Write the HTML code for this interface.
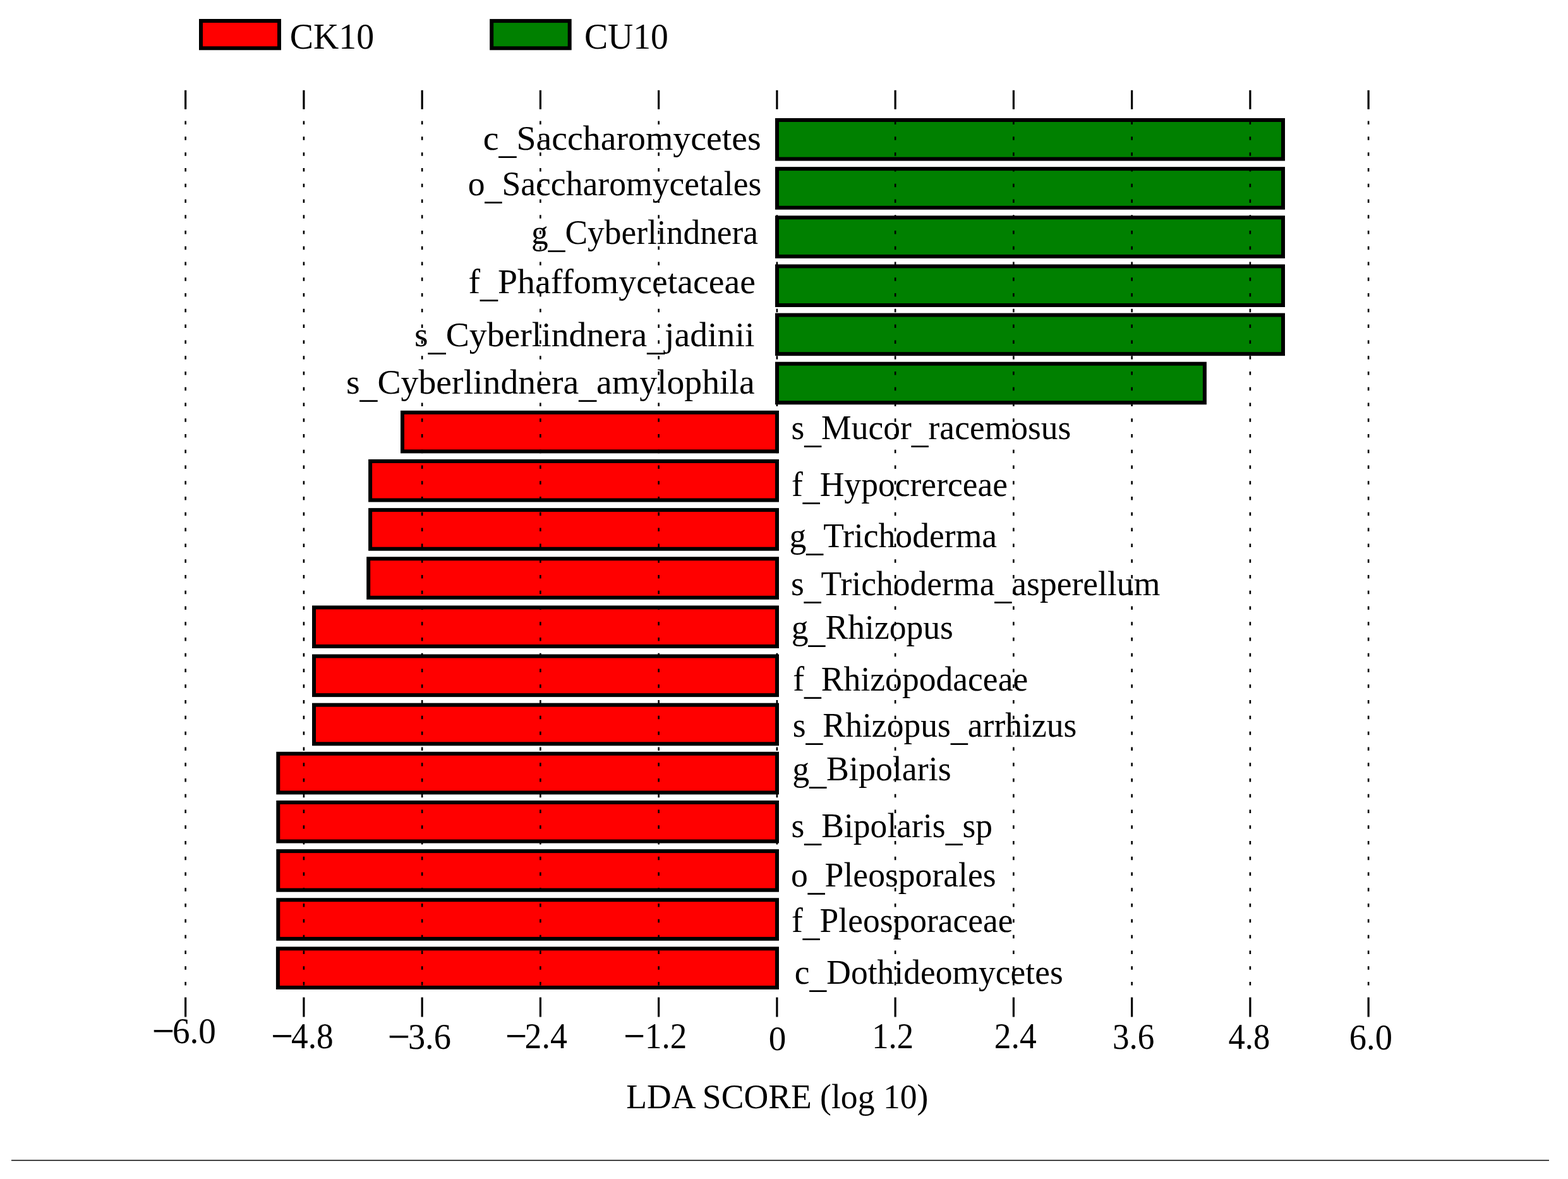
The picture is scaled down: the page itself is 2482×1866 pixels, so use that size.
<!DOCTYPE html>
<html><head><meta charset="utf-8"><title>LDA score plot</title><style>html,body{margin:0;padding:0;background:#fff;overflow:hidden}svg{display:block}text{font-family:"Liberation Serif","Times New Roman",serif;fill:#000}</style></head><body>
<svg width="2482" height="1866" viewBox="0 0 2482 1866">
<rect width="2482" height="1866" fill="#fff"/>
<rect x="318" y="33" width="124" height="43.3" fill="#ff0000" stroke="#000" stroke-width="6"/>
<rect x="778.2" y="33.1" width="123.5" height="43.2" fill="#008000" stroke="#000" stroke-width="6"/>
<text transform="translate(458.8 76.6) scale(0.9972 1)" font-size="56">CK10</text>
<text transform="translate(924.9 76.6) scale(0.9774 1)" font-size="57">CU10</text>
<rect x="1230" y="190.00" width="801.0" height="61.6" fill="#008000" stroke="#000" stroke-width="6"/>
<rect x="1230" y="267.14" width="801.0" height="61.6" fill="#008000" stroke="#000" stroke-width="6"/>
<rect x="1230" y="344.28" width="801.0" height="61.6" fill="#008000" stroke="#000" stroke-width="6"/>
<rect x="1230" y="421.42" width="801.0" height="61.6" fill="#008000" stroke="#000" stroke-width="6"/>
<rect x="1230" y="498.56" width="801.0" height="61.6" fill="#008000" stroke="#000" stroke-width="6"/>
<rect x="1230" y="575.70" width="676.9" height="61.6" fill="#008000" stroke="#000" stroke-width="6"/>
<rect x="637" y="652.84" width="593.0" height="61.6" fill="#ff0000" stroke="#000" stroke-width="6"/>
<rect x="586.1" y="729.98" width="643.9" height="61.6" fill="#ff0000" stroke="#000" stroke-width="6"/>
<rect x="586.1" y="807.12" width="643.9" height="61.6" fill="#ff0000" stroke="#000" stroke-width="6"/>
<rect x="583.2" y="884.26" width="646.8" height="61.6" fill="#ff0000" stroke="#000" stroke-width="6"/>
<rect x="497" y="961.40" width="733.0" height="61.6" fill="#ff0000" stroke="#000" stroke-width="6"/>
<rect x="497" y="1038.54" width="733.0" height="61.6" fill="#ff0000" stroke="#000" stroke-width="6"/>
<rect x="497" y="1115.68" width="733.0" height="61.6" fill="#ff0000" stroke="#000" stroke-width="6"/>
<rect x="440.3" y="1192.82" width="789.7" height="61.6" fill="#ff0000" stroke="#000" stroke-width="6"/>
<rect x="440.3" y="1269.96" width="789.7" height="61.6" fill="#ff0000" stroke="#000" stroke-width="6"/>
<rect x="440.3" y="1347.10" width="789.7" height="61.6" fill="#ff0000" stroke="#000" stroke-width="6"/>
<rect x="440.3" y="1424.24" width="789.7" height="61.6" fill="#ff0000" stroke="#000" stroke-width="6"/>
<rect x="439.9" y="1501.38" width="790.1" height="61.6" fill="#ff0000" stroke="#000" stroke-width="6"/>
<line x1="293.65" y1="142.8" x2="293.65" y2="172.9" stroke="#000" stroke-width="3.2"/>
<line x1="293.65" y1="1578.5" x2="293.65" y2="1609.5" stroke="#000" stroke-width="3.2"/>
<line x1="293.65" y1="191.6" x2="293.65" y2="1562" stroke="#000" stroke-width="2.6" stroke-dasharray="5.5 19.27"/>
<line x1="480.90" y1="142.8" x2="480.90" y2="172.9" stroke="#000" stroke-width="3.2"/>
<line x1="480.90" y1="1578.5" x2="480.90" y2="1609.5" stroke="#000" stroke-width="3.2"/>
<line x1="480.90" y1="191.6" x2="480.90" y2="1562" stroke="#000" stroke-width="2.6" stroke-dasharray="5.5 19.27"/>
<line x1="668.15" y1="142.8" x2="668.15" y2="172.9" stroke="#000" stroke-width="3.2"/>
<line x1="668.15" y1="1578.5" x2="668.15" y2="1609.5" stroke="#000" stroke-width="3.2"/>
<line x1="668.15" y1="191.6" x2="668.15" y2="1562" stroke="#000" stroke-width="2.6" stroke-dasharray="5.5 19.27"/>
<line x1="855.40" y1="142.8" x2="855.40" y2="172.9" stroke="#000" stroke-width="3.2"/>
<line x1="855.40" y1="1578.5" x2="855.40" y2="1609.5" stroke="#000" stroke-width="3.2"/>
<line x1="855.40" y1="191.6" x2="855.40" y2="1562" stroke="#000" stroke-width="2.6" stroke-dasharray="5.5 19.27"/>
<line x1="1042.65" y1="142.8" x2="1042.65" y2="172.9" stroke="#000" stroke-width="3.2"/>
<line x1="1042.65" y1="1578.5" x2="1042.65" y2="1609.5" stroke="#000" stroke-width="3.2"/>
<line x1="1042.65" y1="191.6" x2="1042.65" y2="1562" stroke="#000" stroke-width="2.6" stroke-dasharray="5.5 19.27"/>
<line x1="1229.90" y1="142.8" x2="1229.90" y2="172.9" stroke="#000" stroke-width="3.2"/>
<line x1="1229.90" y1="1578.5" x2="1229.90" y2="1609.5" stroke="#000" stroke-width="3.2"/>
<line x1="1229.90" y1="191.6" x2="1229.90" y2="1562" stroke="#000" stroke-width="2.6" stroke-dasharray="5.5 19.27"/>
<line x1="1417.15" y1="142.8" x2="1417.15" y2="172.9" stroke="#000" stroke-width="3.2"/>
<line x1="1417.15" y1="1578.5" x2="1417.15" y2="1609.5" stroke="#000" stroke-width="3.2"/>
<line x1="1417.15" y1="191.6" x2="1417.15" y2="1562" stroke="#000" stroke-width="2.6" stroke-dasharray="5.5 19.27"/>
<line x1="1604.40" y1="142.8" x2="1604.40" y2="172.9" stroke="#000" stroke-width="3.2"/>
<line x1="1604.40" y1="1578.5" x2="1604.40" y2="1609.5" stroke="#000" stroke-width="3.2"/>
<line x1="1604.40" y1="191.6" x2="1604.40" y2="1562" stroke="#000" stroke-width="2.6" stroke-dasharray="5.5 19.27"/>
<line x1="1791.65" y1="142.8" x2="1791.65" y2="172.9" stroke="#000" stroke-width="3.2"/>
<line x1="1791.65" y1="1578.5" x2="1791.65" y2="1609.5" stroke="#000" stroke-width="3.2"/>
<line x1="1791.65" y1="191.6" x2="1791.65" y2="1562" stroke="#000" stroke-width="2.6" stroke-dasharray="5.5 19.27"/>
<line x1="1978.90" y1="142.8" x2="1978.90" y2="172.9" stroke="#000" stroke-width="3.2"/>
<line x1="1978.90" y1="1578.5" x2="1978.90" y2="1609.5" stroke="#000" stroke-width="3.2"/>
<line x1="1978.90" y1="191.6" x2="1978.90" y2="1562" stroke="#000" stroke-width="2.6" stroke-dasharray="5.5 19.27"/>
<line x1="2166.15" y1="142.8" x2="2166.15" y2="172.9" stroke="#000" stroke-width="3.2"/>
<line x1="2166.15" y1="1578.5" x2="2166.15" y2="1609.5" stroke="#000" stroke-width="3.2"/>
<line x1="2166.15" y1="191.6" x2="2166.15" y2="1562" stroke="#000" stroke-width="2.6" stroke-dasharray="5.5 19.27"/>
<text x="764.8" y="237.1" font-size="55.8">c<tspan dy="6.0">_</tspan><tspan dy="-6.0">Saccharomycetes</tspan></text>
<text transform="translate(740.8 308.8) scale(0.9615 1)" font-size="55.8">o<tspan dy="6.0">_</tspan><tspan dy="-6.0">Saccharomycetales</tspan></text>
<text transform="translate(841.0 385.8) scale(0.9560 1)" font-size="55.9">g<tspan dy="6.0">_</tspan><tspan dy="-6.0">Cyberlindnera</tspan></text>
<text transform="translate(741.5 463.7) scale(1.0041 1)" font-size="55.6">f<tspan dy="6.0">_</tspan><tspan dy="-6.0">Phaffomycetaceae</tspan></text>
<text transform="translate(656.1 547.7) scale(1.0222 1)" font-size="54.5">s<tspan dy="6.0">_</tspan><tspan dy="-6.0">Cyberlindnera</tspan><tspan dy="6.0">_</tspan><tspan dy="-6.0">jadinii</tspan></text>
<text transform="translate(547.9 623.4) scale(1.0225 1)" font-size="54.5">s<tspan dy="6.0">_</tspan><tspan dy="-6.0">Cyberlindnera</tspan><tspan dy="6.0">_</tspan><tspan dy="-6.0">amylophila</tspan></text>
<text transform="translate(1252.5 695.1) scale(0.9644 1)" font-size="55.5">s<tspan dy="6.0">_</tspan><tspan dy="-6.0">Mucor</tspan><tspan dy="6.0">_</tspan><tspan dy="-6.0">racemosus</tspan></text>
<text transform="translate(1253.0 784.6) scale(0.9656 1)" font-size="55.5">f<tspan dy="6.0">_</tspan><tspan dy="-6.0">Hypocrerceae</tspan></text>
<text transform="translate(1249.5 865.7) scale(0.9665 1)" font-size="55.5">g<tspan dy="6.0">_</tspan><tspan dy="-6.0">Trichoderma</tspan></text>
<text transform="translate(1251.9 942.2) scale(0.9658 1)" font-size="55.5">s<tspan dy="6.0">_</tspan><tspan dy="-6.0">Trichoderma</tspan><tspan dy="6.0">_</tspan><tspan dy="-6.0">asperellum</tspan></text>
<text transform="translate(1252.8 1010.8) scale(0.9663 1)" font-size="55.5">g<tspan dy="6.0">_</tspan><tspan dy="-6.0">Rhizopus</tspan></text>
<text transform="translate(1255.2 1093) scale(0.9660 1)" font-size="55.5">f<tspan dy="6.0">_</tspan><tspan dy="-6.0">Rhizopodaceae</tspan></text>
<text transform="translate(1254.7 1165.9) scale(0.9662 1)" font-size="55.5">s<tspan dy="6.0">_</tspan><tspan dy="-6.0">Rhizopus</tspan><tspan dy="6.0">_</tspan><tspan dy="-6.0">arrhizus</tspan></text>
<text transform="translate(1254.2 1234.5) scale(0.9710 1)" font-size="55.5">g<tspan dy="6.0">_</tspan><tspan dy="-6.0">Bipolaris</tspan></text>
<text transform="translate(1252.5 1325.1) scale(0.9659 1)" font-size="55.5">s<tspan dy="6.0">_</tspan><tspan dy="-6.0">Bipolaris</tspan><tspan dy="6.0">_</tspan><tspan dy="-6.0">sp</tspan></text>
<text transform="translate(1252.0 1402.8) scale(0.9663 1)" font-size="55.5">o<tspan dy="6.0">_</tspan><tspan dy="-6.0">Pleosporales</tspan></text>
<text transform="translate(1253.0 1475.2) scale(0.9639 1)" font-size="55.5">f<tspan dy="6.0">_</tspan><tspan dy="-6.0">Pleosporaceae</tspan></text>
<text transform="translate(1257.7 1557.3) scale(0.9645 1)" font-size="55.5">c<tspan dy="6.0">_</tspan><tspan dy="-6.0">Dothideomycetes</tspan></text>
<text transform="translate(272.9 1651.0) scale(0.9617 1)" font-size="57.3">6.0</text>
<text stroke="#000" stroke-width="0.8" transform="translate(240.9 1651.0) scale(1.0771 1)" font-size="57.3">−</text>
<text transform="translate(461.1 1658.9) scale(0.9313 1)" font-size="57.3">4.8</text>
<text stroke="#000" stroke-width="0.8" transform="translate(429.5 1658.9) scale(1.0546 1)" font-size="57.3">−</text>
<text transform="translate(645.9 1660.3) scale(0.9502 1)" font-size="57.3">3.6</text>
<text stroke="#000" stroke-width="0.8" transform="translate(614.0 1660.3) scale(1.0734 1)" font-size="57.3">−</text>
<text transform="translate(830.6 1659.3) scale(0.9386 1)" font-size="57.3">2.4</text>
<text stroke="#000" stroke-width="0.8" transform="translate(800.2 1659.3) scale(1.0359 1)" font-size="57.3">−</text>
<text transform="translate(1021.0 1659.3) scale(0.9255 1)" font-size="57.3">1.2</text>
<text stroke="#000" stroke-width="0.8" transform="translate(987.5 1659.3) scale(1.0246 1)" font-size="57.3">−</text>
<text transform="translate(1216.8 1662.4) scale(1.0229 1)" font-size="54.0">0</text>
<text transform="translate(1380.2 1659.4) scale(0.9208 1)" font-size="57.3">1.2</text>
<text transform="translate(1573.7 1659.4) scale(0.9357 1)" font-size="57.3">2.4</text>
<text transform="translate(1761.0 1659.5) scale(0.9278 1)" font-size="57.3">3.6</text>
<text transform="translate(1944.5 1659.5) scale(0.9181 1)" font-size="57.3">4.8</text>
<text transform="translate(2135.8 1661.1) scale(0.9512 1)" font-size="57.3">6.0</text>
<text transform="translate(991.2 1753.9) scale(0.9752 1)" font-size="55">LDA SCORE (log 10)</text>
<line x1="18" y1="1836.5" x2="2452" y2="1836.5" stroke="#000" stroke-width="1.5"/>
</svg></body></html>
